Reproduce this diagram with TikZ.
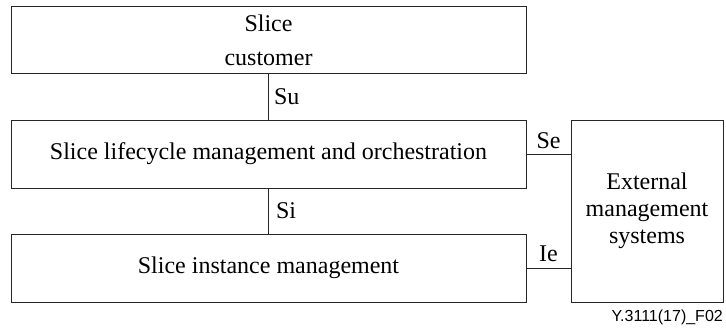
\documentclass[tikz,border=0pt]{standalone}
\usepackage{fontspec}
\setmainfont{Liberation Serif}
\newfontfamily\figsans{Liberation Sans}
\begin{document}
\begin{tikzpicture}[x=1pt,y=-1pt,
  blk/.style={draw=black!85,line width=1pt,rectangle,inner sep=0pt,align=center,font=\fontsize{24}{27}\selectfont},
  conn/.style={draw=black!85,line width=1pt},
  lbl/.style={font=\fontsize{24}{27}\selectfont,inner sep=0pt}]
\useasboundingbox (0,0) rectangle (726,329);
\node[blk,minimum width=515pt,minimum height=67pt,font=\fontsize{24}{34}\selectfont] (cust) at (268.5,40.5) {Slice\\customer};
\node[blk,minimum width=515pt,minimum height=68pt] (lcm) at (268.5,154) {Slice lifecycle management and orchestration};
\node[blk,minimum width=515pt,minimum height=68pt] (sim) at (268.5,268) {Slice instance management};
\node[blk,minimum width=152pt,minimum height=182pt] (ext) at (647,211) {External\\management\\systems};
\draw[conn] (cust.south) -- node[lbl,anchor=west,xshift=5pt]{Su} (lcm.north);
\draw[conn] (lcm.south) -- node[lbl,anchor=west,xshift=7pt]{Si} (sim.north);
\draw[conn] (lcm.east) -- node[lbl,anchor=south,yshift=5pt]{Se} (lcm.east -| ext.west);
\draw[conn] (sim.east) -- node[lbl,anchor=south,yshift=6pt]{Ie} (sim.east -| ext.west);
\node[anchor=east,inner sep=0pt,font=\figsans\fontsize{16}{18}\selectfont] (fig) at (723,317) {Y.3111(17)\_F02};
\end{tikzpicture}
\end{document}
